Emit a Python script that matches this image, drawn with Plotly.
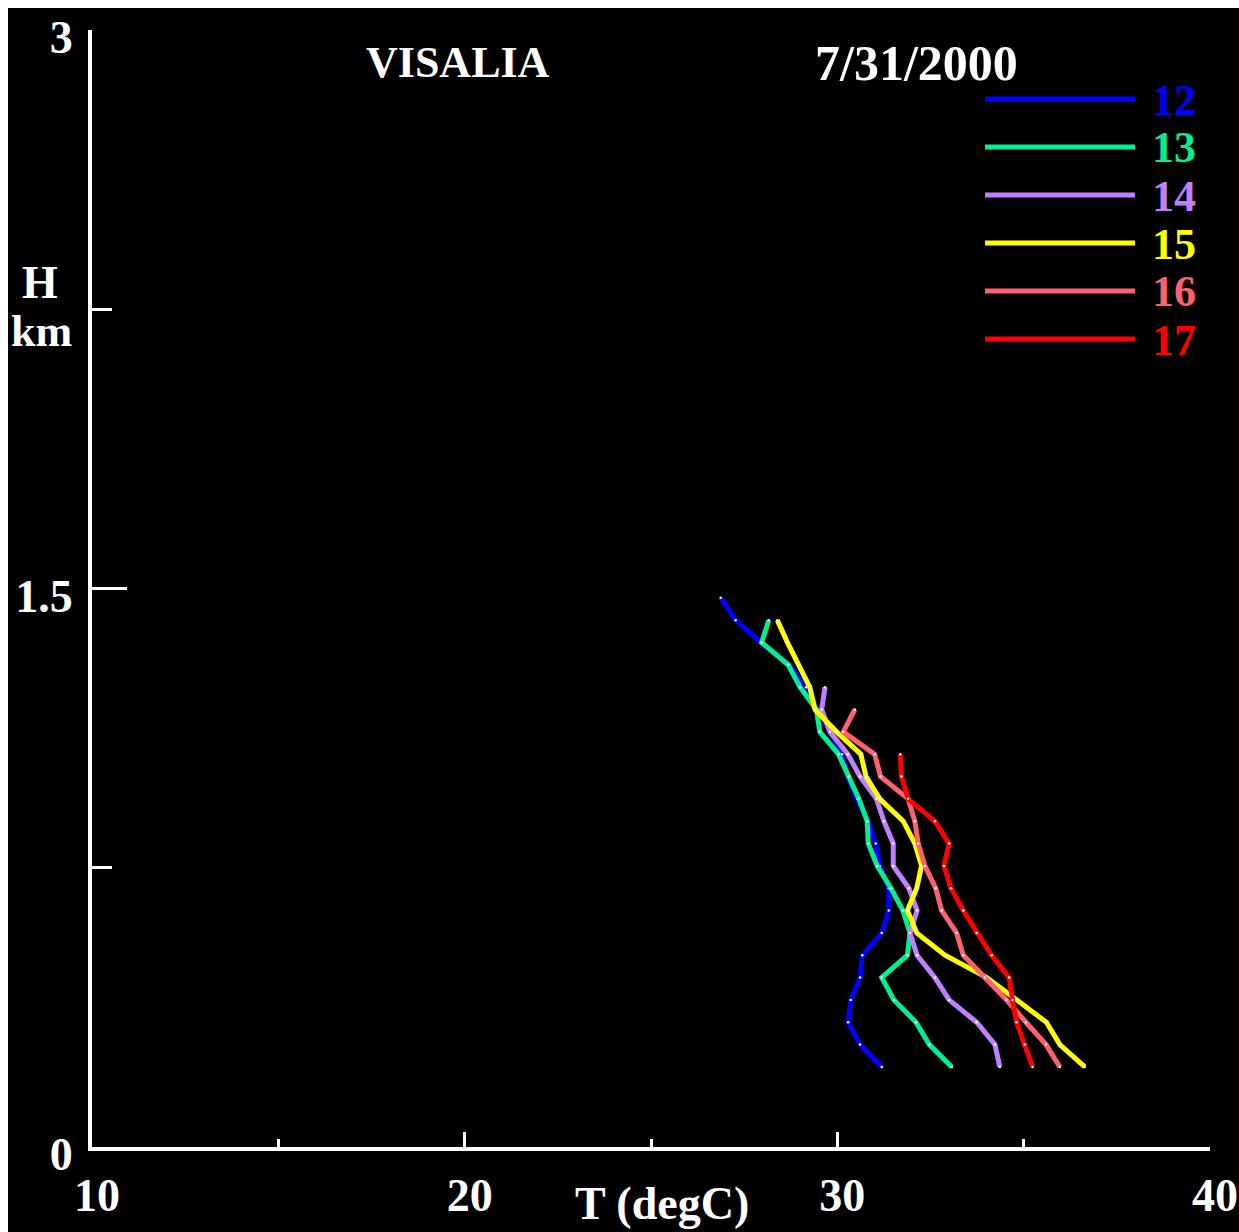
import plotly.graph_objects as go

# ---- data (height km, temperature degC) ----
heights = [0.215, 0.275, 0.335, 0.395, 0.455, 0.515, 0.575, 0.635, 0.695, 0.755, 0.815,
           0.875, 0.935, 0.995, 1.055, 1.115, 1.175, 1.235, 1.295, 1.355, 1.415, 1.475]

t12 = [31.19, 30.61, 30.29, 30.36, 30.61, 30.67, 31.19, 31.38, 31.38, 31.14, 31.03,
       30.82, 30.53, 30.28, 30.12, 29.80, 29.48, 29.16, 28.71, 27.95, 27.27, 26.87]
t13 = [33.07, 32.47, 32.11, 31.52, 31.19, 31.88, 31.95, 31.76, 31.44, 31.07, 30.83,
       30.80, 30.58, 30.31, 30.03, 29.53, 29.44, 29.00, 28.68, 27.97, 28.16]
t14 = [34.36, 34.23, 33.74, 33.00, 32.62, 32.14, 31.95, 32.14, 31.92, 31.50, 31.50,
       31.25, 31.05, 30.61, 30.28, 29.80, 29.58, 29.67]
t15 = [36.64, 35.97, 35.61, 34.81, 34.01, 32.89, 32.13, 31.88, 32.13, 32.26, 32.08,
       31.77, 31.14, 30.77, 30.63, 29.98, 29.40, 29.26, 28.95, 28.66, 28.39]
t16 = [35.97, 35.60, 35.06, 34.54, 33.96, 33.38, 33.20, 32.80, 32.64, 32.35, 32.17,
       32.08, 31.90, 31.16, 31.00, 30.16, 30.47]
t17 = [35.24, 35.03, 34.81, 34.70, 34.61, 34.14, 33.74, 33.38, 33.05, 32.86, 33.00,
       32.62, 31.90, 31.72, 31.69]

series_names = ["12", "13", "14", "15", "16", "17"]
series_values = [t12, t13, t14, t15, t16, t17]
colors = ["#0000FF", "#00F090", "#C080FF", "#FFFF00", "#FF6070", "#FF0000"]

x_ticks = [10, 20, 30, 40]
y_ticks = [0, 1.5, 3]
y_ticktext = ["0", "1.5", "3"]

FONT = "Liberation Serif"

# ---- layout geometry (page pixels) ----
OFF = 8  # body margin of the html page (top/left)
FIG_W, FIG_H = 1239 - OFF, 1232 - OFF
PL, PR, PT, PB = 92, 1210, 30, 1147  # plot area in page pixels


def paper_x(px):
    return (px - PL) / (PR - PL)


def paper_y(py):
    return (PB - py) / (PB - PT)


fig = go.Figure()
for name, vals, col in zip(series_names, series_values, colors):
    fig.add_trace(go.Scatter(
        x=vals, y=heights[:len(vals)], mode="lines+markers", name=name,
        line=dict(color=col, width=5),
        marker=dict(color="white", size=2.5, line=dict(width=0)),
    ))


def bold(size, color="white"):
    return dict(family=FONT, size=size, color=color, weight="bold")


fig.update_layout(
    width=FIG_W, height=FIG_H,
    margin=dict(l=PL - OFF, r=FIG_W - (PR - OFF), t=PT - OFF, b=FIG_H - (PB - OFF)),
    paper_bgcolor="black", plot_bgcolor="black",
    showlegend=False,
    xaxis=dict(range=[10, 40], tickvals=x_ticks, ticks="inside", ticklen=15,
               tickwidth=3, tickcolor="white", showline=True, linecolor="white",
               linewidth=4, showgrid=False, zeroline=False, tickfont=bold(46),
               ticklabelstandoff=5, ticklabelshift=5,
               automargin=False, ticklabeloverflow="allow",
               minor=dict(dtick=5, ticks="inside", ticklen=8, tickwidth=3,
                          tickcolor="white", showgrid=False)),
    yaxis=dict(range=[0, 3], tickvals=y_ticks, ticktext=y_ticktext,
               ticks="inside", ticklen=35, tickwidth=3, tickcolor="white",
               showline=True, linecolor="white", linewidth=4, showgrid=False,
               zeroline=False, tickfont=bold(46), ticklabelstandoff=6,
               ticklabelshift=7,
               automargin=False, ticklabeloverflow="allow",
               minor=dict(dtick=0.75, ticks="inside", ticklen=20, tickwidth=3,
                          tickcolor="white", showgrid=False)),
)


def add_text(text, px, py, font, xanchor="center"):
    fig.add_annotation(text=text, x=paper_x(px), y=paper_y(py), xref="paper", yref="paper",
                       showarrow=False, font=font, xanchor=xanchor, yanchor="middle")


add_text("VISALIA", 458, 63, bold(44))
add_text("7/31/2000", 916, 63, bold(50))
add_text("T (degC)", 662, 1203, bold(46))
add_text("H", 40, 282, bold(46))
add_text("km", 41, 331, bold(44))

# custom legend
leg_y0 = 99
leg_dy = 48
for i, (name, col) in enumerate(zip(series_names, colors)):
    yy = leg_y0 + i * leg_dy
    fig.add_shape(type="line", xref="paper", yref="paper",
                  x0=paper_x(985), x1=paper_x(1135), y0=paper_y(yy), y1=paper_y(yy),
                  line=dict(color=col, width=5))
    add_text(name, 1174, yy + 1, bold(44, col))

fig.write_html(
    "out.html",
    post_script="document.body.style.margin='8px 0 0 8px';"
                "document.body.style.overflow='hidden';",
)
